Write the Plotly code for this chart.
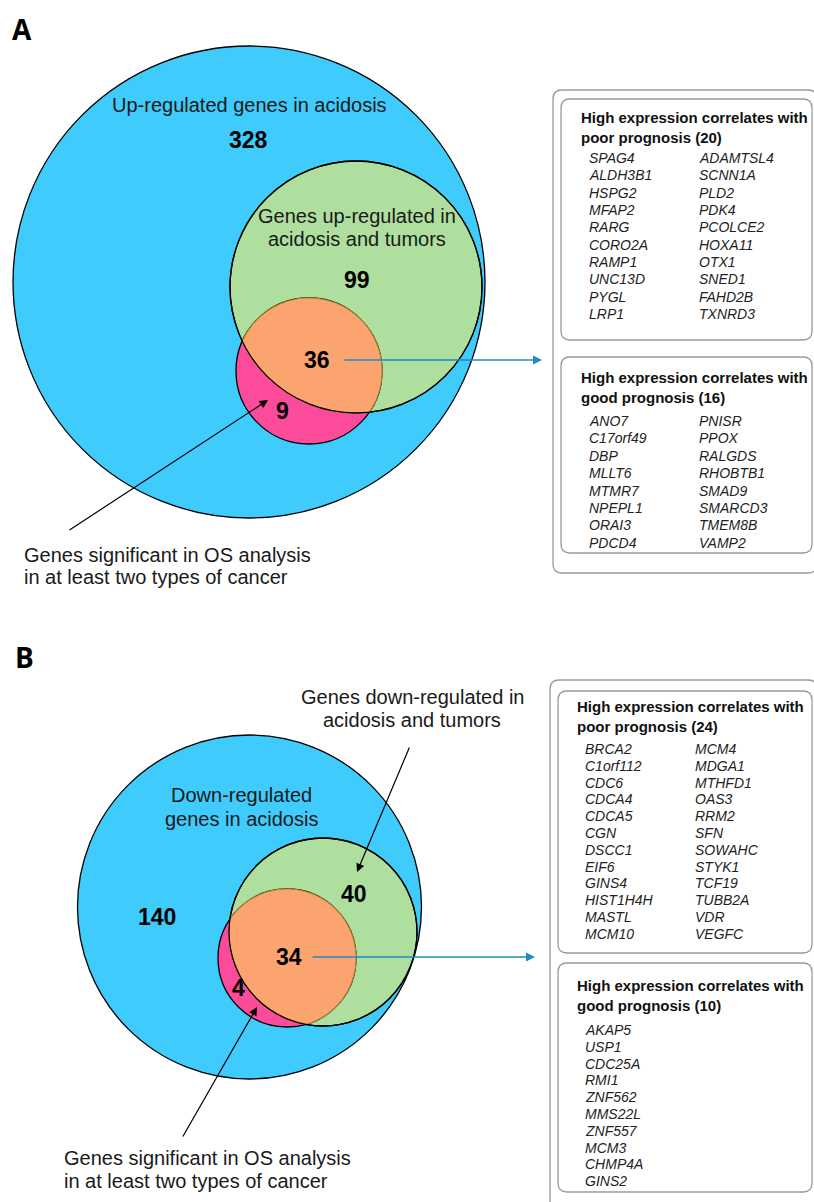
import numpy as np
import plotly.graph_objects as go

W, H = 814, 1202

# ---------------- data ----------------
a_region_counts = [328, 99, 36, 9]          # acidosis only, acidosis+tumor, +OS, OS only
b_region_counts = [140, 40, 34, 4]
a_set_labels = ["Up-regulated genes in acidosis",
                "Genes up-regulated in<br>acidosis and tumors",
                "Genes significant in OS analysis<br>in at least two types of cancer"]
b_set_labels = ["Down-regulated<br>genes in acidosis",
                "Genes down-regulated in<br>acidosis and tumors",
                "Genes significant in OS analysis<br>in at least two types of cancer"]

a_poor_col1 = ["SPAG4", "ALDH3B1", "HSPG2", "MFAP2", "RARG", "CORO2A", "RAMP1", "UNC13D", "PYGL", "LRP1"]
a_poor_col2 = ["ADAMTSL4", "SCNN1A", "PLD2", "PDK4", "PCOLCE2", "HOXA11", "OTX1", "SNED1", "FAHD2B", "TXNRD3"]
a_good_col1 = ["ANO7", "C17orf49", "DBP", "MLLT6", "MTMR7", "NPEPL1", "ORAI3", "PDCD4"]
a_good_col2 = ["PNISR", "PPOX", "RALGDS", "RHOBTB1", "SMAD9", "SMARCD3", "TMEM8B", "VAMP2"]
b_poor_col1 = ["BRCA2", "C1orf112", "CDC6", "CDCA4", "CDCA5", "CGN", "DSCC1", "EIF6", "GINS4", "HIST1H4H", "MASTL", "MCM10"]
b_poor_col2 = ["MCM4", "MDGA1", "MTHFD1", "OAS3", "RRM2", "SFN", "SOWAHC", "STYK1", "TCF19", "TUBB2A", "VDR", "VEGFC"]
b_good_col1 = ["AKAP5", "USP1", "CDC25A", "RMI1", "ZNF562", "MMS22L", "ZNF557", "MCM3", "CHMP4A", "GINS2"]

# ---------------- style ----------------
BLUE = "#3fcbfc"
GREEN = "#aedf9e"
PINK = "#fb4b9a"
ORANGE = "#fca46f"
OLIVE = "#b58a35"
ARROW_BLUE = "#1f8cc4"
BOX_GRAY = "#9a9a9a"
FONT = "Liberation Sans, Arial, Helvetica, sans-serif"

shapes = []
annotations = []


def circle(cx, cy, r, fill, line="black", width=1.3):
    shapes.append(dict(type="circle", xref="x", yref="y", x0=cx - r, x1=cx + r, y0=cy - r, y1=cy + r,
                       fillcolor=fill, line=dict(color=line, width=width), layer="above"))


def lens_path(c1, r1, c2, r2, n=120):
    (x1, y1), (x2, y2) = c1, c2
    d = np.hypot(x2 - x1, y2 - y1)
    a = (r1 ** 2 - r2 ** 2 + d ** 2) / (2 * d)
    h = np.sqrt(max(r1 ** 2 - a ** 2, 0))
    ux, uy = (x2 - x1) / d, (y2 - y1) / d
    mx, my = x1 + a * ux, y1 + a * uy
    p = (mx - h * uy, my + h * ux)
    q = (mx + h * uy, my - h * ux)

    def arc(c, r, s, e, toward):
        t0 = np.arctan2(s[1] - c[1], s[0] - c[0])
        t1 = np.arctan2(e[1] - c[1], e[0] - c[0])
        tw = np.arctan2(toward[1] - c[1], toward[0] - c[0])
        d1 = (t1 - t0) % (2 * np.pi)
        sweep = d1 if (tw - t0) % (2 * np.pi) <= d1 else d1 - 2 * np.pi
        ts = t0 + np.linspace(0, 1, n) * sweep
        return c[0] + r * np.cos(ts), c[1] + r * np.sin(ts)

    xa, ya = arc(c1, r1, p, q, c2)
    xb, yb = arc(c2, r2, q, p, c1)
    xs = np.concatenate([xa, xb])
    ys = np.concatenate([ya, yb])
    path = "M" + " L".join(f"{x:.2f},{y:.2f}" for x, y in zip(xs, ys)) + " Z"
    return path


def rrect(x0, y0, x1, y1, r=9, color=BOX_GRAY, width=1.3):
    path = (f"M{x0 + r},{y0} L{x1 - r},{y0} Q{x1},{y0} {x1},{y0 + r} L{x1},{y1 - r} "
            f"Q{x1},{y1} {x1 - r},{y1} L{x0 + r},{y1} Q{x0},{y1} {x0},{y1 - r} "
            f"L{x0},{y0 + r} Q{x0},{y0} {x0 + r},{y0} Z")
    shapes.append(dict(type="path", xref="x", yref="y", path=path,
                       line=dict(color=color, width=width), fillcolor="rgba(0,0,0,0)"))


def text(x, y, s, size, bold=False, italic=False, xanchor="center", color="#1a1a1a", family=FONT):
    if bold:
        s = f"<b>{s}</b>"
    if italic:
        s = f"<i>{s}</i>"
    annotations.append(dict(x=x, y=y, xref="x", yref="y", text=s, showarrow=False,
                            xanchor=xanchor, yanchor="middle", align="left" if xanchor == "left" else "center",
                            font=dict(size=size, color=color, family=family)))


def arrow(x0, y0, x1, y1, color="black", width=1.2, size=1.4):
    annotations.append(dict(x=x1, y=y1, ax=x0, ay=y0, xref="x", yref="y", axref="x", ayref="y",
                            text="", showarrow=True, arrowhead=2, arrowsize=size, arrowwidth=width,
                            arrowcolor=color, standoff=0, startstandoff=0))


def multiline(x, y, label, size, step, xanchor="center", color="#1a1a1a"):
    for i, ln in enumerate(label.split("<br>")):
        text(x, y + i * step, ln, size, xanchor=xanchor, color=color)


def venn(geo, counts, labels):
    (bc, br), (gc, gr), (pc, pr) = geo["blue"], geo["green"], geo["pink"]
    circle(*bc, br, BLUE)
    circle(*gc, gr, GREEN)
    circle(*pc, pr, PINK)
    shapes.append(dict(type="path", xref="x", yref="y", path=lens_path(pc, pr, gc, gr),
                       fillcolor=ORANGE, line=dict(color=OLIVE, width=1.1), layer="above"))
    circle(*gc, gr, "rgba(0,0,0,0)")
    for (x, y), c in zip(geo["num_pos"], counts):
        text(x, y, str(c), 23, bold=True, color="black")


def gene_box(box, header_y, header_x, cols, col_x, row0, step, tag, n):
    rrect(*box)
    text(header_x, header_y, "High expression correlates with", 15, bold=True, xanchor="left", color="#111")
    text(header_x, header_y + 20, f"{tag} prognosis ({n})", 15, bold=True, xanchor="left", color="#111")
    for col, cx in zip(cols, col_x):
        for i, g in enumerate(col):
            text(cx, row0 + i * step, g, 14, italic=True, xanchor="left", color="#222")


# ---------------- panel A ----------------
geoA = dict(blue=((249, 282), 236), green=((356, 287), 126), pink=((309, 371), 73),
            num_pos=[(248, 140), (357, 280), (317, 360), (282, 411)])
venn(geoA, a_region_counts, a_set_labels)
text(22, 29, "A", 28, bold=True, color="black", family="Open Sans, Liberation Sans, sans-serif")
text(249, 105, a_set_labels[0], 20)
multiline(357, 216, a_set_labels[1], 20, 23)
multiline(22, 555, a_set_labels[2], 20, 22, xanchor="left")
arrow(343, 360, 542, 360, color=ARROW_BLUE, width=1.5, size=1.2)
arrow(68, 531, 268, 400)

rrect(553, 90, 817, 573)
gene_box((561, 99, 812, 340), 117, 579, [a_poor_col1, a_poor_col2], [587, 697], 158, 17.35, "poor",
         len(a_poor_col1) + len(a_poor_col2))
gene_box((561, 357, 812, 553), 377, 579, [a_good_col1, a_good_col2], [587, 697], 421, 17.4, "good",
         len(a_good_col1) + len(a_good_col2))

# ---------------- panel B ----------------
geoB = dict(blue=((249.5, 907), 172), green=((323, 932), 94), pink=((287, 958), 69),
            num_pos=[(157, 917), (354, 894), (289, 957), (238, 988)])
venn(geoB, b_region_counts, b_set_labels)
text(24, 657, "B", 28, bold=True, color="black", family="Open Sans, Liberation Sans, sans-serif")
multiline(241, 795, b_set_labels[0], 20, 24)
multiline(412, 697, b_set_labels[1], 20, 23)
multiline(62, 1158, b_set_labels[2], 20, 23, xanchor="left")
arrow(410, 746, 357, 872)
arrow(182, 1138, 257, 1007)
arrow(311, 957, 535, 957, color=ARROW_BLUE, width=1.5, size=1.2)

rrect(550, 680, 817, 1212)
gene_box((558, 691, 812, 953), 706, 575, [b_poor_col1, b_poor_col2], [583, 693], 749, 16.8, "poor",
         len(b_poor_col1) + len(b_poor_col2))
gene_box((558, 963, 812, 1192), 985, 575, [b_good_col1], [583], 1030, 16.8, "good", len(b_good_col1))

fig = go.Figure()
fig.update_layout(
    width=W, height=H, margin=dict(l=0, r=0, t=0, b=0),
    paper_bgcolor="white", plot_bgcolor="white",
    xaxis=dict(range=[0, W], visible=False, fixedrange=True),
    yaxis=dict(range=[H, 0], visible=False, fixedrange=True),
    shapes=shapes, annotations=annotations, showlegend=False,
)
fig.write_html("out.html")
